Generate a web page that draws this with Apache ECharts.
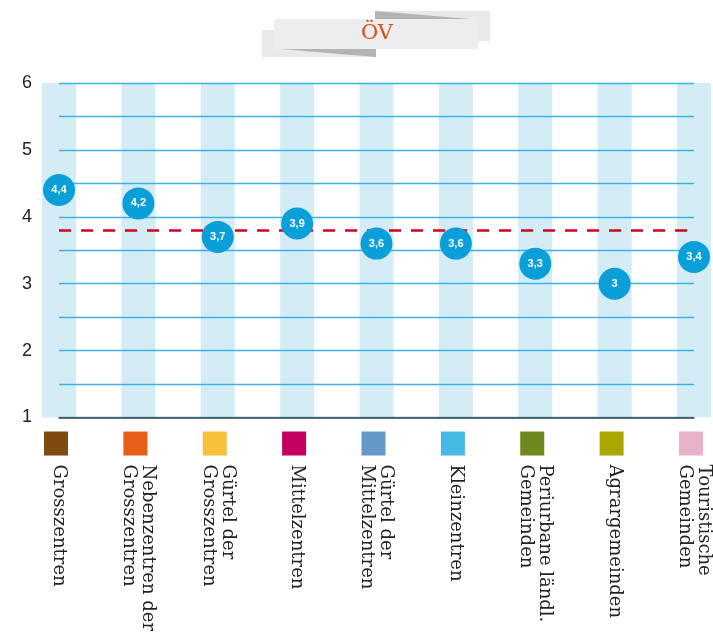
<!DOCTYPE html>
<html>
<head>
<meta charset="utf-8">
<script src="https://cdn.jsdelivr.net/npm/echarts@6/dist/echarts.min.js"></script>
<style>html,body{margin:0;padding:0;background:#fff}#c{width:713px;height:634px}</style>
</head>
<body>
<div id="c"></div>
<script>
const categories = ['Grosszentren', 'Nebenzentren der\nGrosszentren', 'Gürtel der\nGrosszentren', 'Mittelzentren', 'Gürtel der\nMittelzentren', 'Kleinzentren', 'Periurbane ländl.\nGemeinden', 'Agrargemeinden', 'Touristische\nGemeinden'];
const values = [4.4, 4.2, 3.7, 3.9, 3.6, 3.6, 3.3, 3.0, 3.4];
const categoryColors = ['#7f4a0d', '#ea5f17', '#f8c13b', '#c1005f', '#6598c9', '#46b8e4', '#6e8a1e', '#a8a800', '#e8b2c8'];
const average = 3.8;
const yMin = 1;
const yMax = 6;
const yTicks = [1, 2, 3, 4, 5, 6];
const title = 'ÖV';

const chart = echarts.init(document.getElementById('c'));
chart.setOption({
  animation: false,
  grid: { left: 59, right: 16, top: 83, bottom: 214, containLabel: false },
  graphic: [
    { type: 'rect', shape: { x: 375, y: 11, width: 115, height: 30 }, style: { fill: '#e8e9ea' }, z: 1 },
    { type: 'polygon', shape: { points: [[375, 11], [470, 19], [375, 19]] }, style: { fill: '#b3b3b3' }, z: 2 },
    { type: 'rect', shape: { x: 262, y: 30, width: 114, height: 27 }, style: { fill: '#e8e9ea' }, z: 1 },
    { type: 'polygon', shape: { points: [[280, 49], [376, 49], [376, 57]] }, style: { fill: '#b3b3b3' }, z: 2 },
    { type: 'rect', shape: { x: 274, y: 19, width: 204, height: 30 }, style: { fill: '#ecedee' }, z: 3 },
    { type: 'text', x: 377, y: 34, z: 4, style: { text: title, fill: '#d9501e', font: '21px "DejaVu Serif"', align: 'center', verticalAlign: 'middle' } }
  ],
  xAxis: {
    type: 'category',
    data: categories,
    boundaryGap: false,
    axisLine: { show: true, lineStyle: { color: '#444', width: 1.5 } },
    axisTick: { show: false },
    axisLabel: {
      rotate: -90,
      margin: 47,
      interval: 0,
      color: '#222',
      fontFamily: 'DejaVu Serif',
      fontSize: 18,
      lineHeight: 19
    },
    splitLine: { show: false }
  },
  yAxis: {
    type: 'value',
    min: yMin,
    max: yMax,
    interval: 0.5,
    axisLine: { show: false },
    axisTick: { show: false },
    axisLabel: {
      margin: 27,
      color: '#222',
      fontSize: 18,
      fontFamily: 'Liberation Sans',
      formatter: v => (yTicks.includes(v) ? String(v) : '')
    },
    splitLine: { show: true, lineStyle: { color: '#3ab2e2', width: 1.4 } }
  },
  series: [
    {
      type: 'bar',
      stack: 'band',
      data: categories.map(() => yMin),
      barWidth: 34,
      itemStyle: { color: 'rgba(0,0,0,0)' },
      z: -1,
      silent: true
    },
    {
      type: 'bar',
      stack: 'band',
      data: categories.map(() => yMax - yMin),
      barWidth: 34,
      itemStyle: { color: '#d4ecf6' },
      clip: false,
      z: -1,
      silent: true
    },
    {
      type: 'scatter',
      data: categoryColors.map(c => ({ value: yMin, itemStyle: { color: c, opacity: 1 } })),
      symbol: 'rect',
      symbolSize: 24,
      symbolOffset: [-3, 26],
      clip: false,
      z: 3,
      silent: true
    },
    {
      type: 'scatter',
      data: values,
      symbolSize: 32,
      itemStyle: { color: '#0a9fd9', opacity: 1 },
      clip: false,
      z: 5,
      label: {
        show: true,
        position: 'inside',
        color: '#fff',
        fontWeight: 'bold',
        fontSize: 11,
        fontFamily: 'Liberation Sans',
        formatter: p => String(p.value).replace('.', ',')
      },
      markLine: {
        silent: true,
        symbol: 'none',
        label: { show: false },
        lineStyle: { color: '#d0021b', type: [12, 10], width: 2.5 },
        data: [{ yAxis: average }]
      }
    }
  ]
});
</script>
</body>
</html>
